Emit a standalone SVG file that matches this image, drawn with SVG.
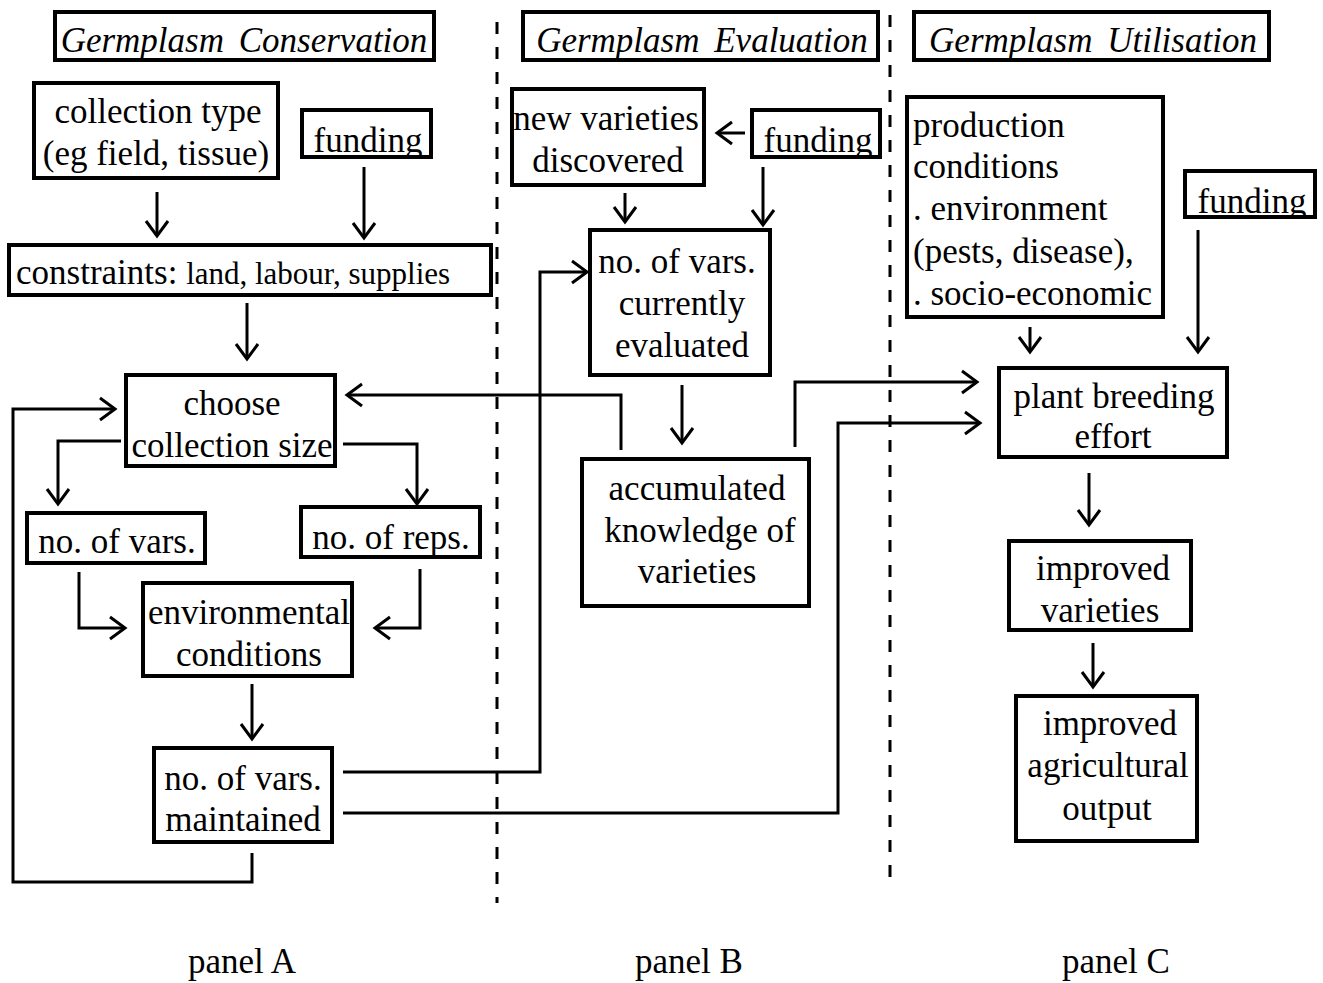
<svg xmlns="http://www.w3.org/2000/svg" width="1323" height="983" viewBox="0 0 1323 983">
<style>
  .box { fill: none; stroke: #000; stroke-width: 4; }
  .t { font-family: "Liberation Serif", "Times New Roman", serif; font-size: 35px; fill: #000; }
  .c { text-anchor: middle; }
  .title { font-style: italic; word-spacing: 6px; }
  .small { font-size: 31px; }
  .conn path { fill: none; stroke: #000; stroke-width: 3; marker-end: url(#arr); }
  .conn path.plain { marker-end: none; }
  .dash { stroke: #000; stroke-width: 3; stroke-dasharray: 12 13; }
</style>
<defs>
  <marker id="arr" markerUnits="userSpaceOnUse" markerWidth="40" markerHeight="40" refX="0" refY="0" viewBox="-20 -20 40 40" orient="auto" overflow="visible">
    <path d="M-15,-11 L0,0 L-15,11" fill="none" stroke="#000" stroke-width="3"/>
  </marker>
  <clipPath id="clipFA"><rect x="302" y="110" width="129" height="47"/></clipPath>
  <clipPath id="clipFB"><rect x="752" y="110" width="128" height="47"/></clipPath>
  <clipPath id="clipFC"><rect x="1185" y="171" width="130" height="46"/></clipPath>
</defs>
<rect width="1323" height="983" fill="#fff"/>

<g id="dividers">
  <line class="dash" x1="497" y1="22" x2="497" y2="903"/>
  <line class="dash" x1="890" y1="15" x2="890" y2="890"/>
</g>

<g id="title-conservation">
  <rect class="box" x="55" y="12" width="379" height="48"/>
  <text class="t c title" x="244" y="52">Germplasm Conservation</text>
</g>
<g id="title-evaluation">
  <rect class="box" x="523" y="12" width="355" height="48"/>
  <text class="t c title" x="702" y="52">Germplasm Evaluation</text>
</g>
<g id="title-utilisation">
  <rect class="box" x="914" y="12" width="355" height="48"/>
  <text class="t c title" x="1093" y="52">Germplasm Utilisation</text>
</g>

<g id="collection-type">
  <rect class="box" x="34" y="83" width="244" height="95"/>
  <text class="t c" x="158" y="123">collection type</text>
  <text class="t c" x="156" y="165">(eg field, tissue)</text>
</g>
<g id="funding-a">
  <text class="t c" x="368" y="152" clip-path="url(#clipFA)">funding</text>
  <rect class="box" x="302" y="110" width="129" height="47"/>
</g>
<g id="constraints">
  <rect class="box" x="9" y="245" width="482" height="50"/>
  <text class="t" x="16" y="284">constraints: <tspan class="small">land, labour, supplies</tspan></text>
</g>
<g id="choose">
  <rect class="box" x="126" y="375" width="209" height="91"/>
  <text class="t c" x="232" y="415">choose</text>
  <text class="t c" x="232" y="457">collection size</text>
</g>
<g id="no-vars-a">
  <rect class="box" x="27" y="513" width="178" height="50"/>
  <text class="t c" x="117" y="553">no. of vars.</text>
</g>
<g id="no-reps">
  <rect class="box" x="301" y="507" width="179" height="50"/>
  <text class="t c" x="391" y="549">no. of reps.</text>
</g>
<g id="environmental">
  <rect class="box" x="143" y="583" width="209" height="93"/>
  <text class="t c" x="249" y="624">environmental</text>
  <text class="t c" x="249" y="666">conditions</text>
</g>
<g id="maintained">
  <rect class="box" x="154" y="748" width="178" height="94"/>
  <text class="t c" x="243" y="790">no. of vars.</text>
  <text class="t c" x="243" y="831">maintained</text>
</g>

<g id="new-varieties">
  <rect class="box" x="512" y="89" width="192" height="96"/>
  <text class="t c" x="606" y="130">new varieties</text>
  <text class="t c" x="608" y="172">discovered</text>
</g>
<g id="funding-b">
  <text class="t c" x="818" y="152" clip-path="url(#clipFB)">funding</text>
  <rect class="box" x="752" y="110" width="128" height="47"/>
</g>
<g id="currently-evaluated">
  <rect class="box" x="590" y="230" width="180" height="145"/>
  <text class="t c" x="677" y="273">no. of vars.</text>
  <text class="t c" x="682" y="315">currently</text>
  <text class="t c" x="682" y="357">evaluated</text>
</g>
<g id="accumulated">
  <rect class="box" x="582" y="459" width="227" height="147"/>
  <text class="t c" x="697" y="500">accumulated</text>
  <text class="t c" x="700" y="542">knowledge of</text>
  <text class="t c" x="697" y="583">varieties</text>
</g>

<g id="production">
  <rect class="box" x="907" y="97" width="256" height="220"/>
  <text class="t" x="913" y="137">production</text>
  <text class="t" x="913" y="178">conditions</text>
  <text class="t" x="913" y="220">. environment</text>
  <text class="t" x="913" y="263">(pests, disease),</text>
  <text class="t" x="913" y="305">. socio-economic</text>
</g>
<g id="funding-c">
  <text class="t c" x="1252" y="213" clip-path="url(#clipFC)">funding</text>
  <rect class="box" x="1185" y="171" width="130" height="46"/>
</g>
<g id="plant-breeding">
  <rect class="box" x="999" y="368" width="228" height="89"/>
  <text class="t c" x="1114" y="408">plant breeding</text>
  <text class="t c" x="1113" y="448">effort</text>
</g>
<g id="improved-varieties">
  <rect class="box" x="1009" y="541" width="182" height="89"/>
  <text class="t c" x="1103" y="580">improved</text>
  <text class="t c" x="1100" y="622">varieties</text>
</g>
<g id="improved-output">
  <rect class="box" x="1016" y="696" width="181" height="145"/>
  <text class="t c" x="1110" y="735">improved</text>
  <text class="t c" x="1108" y="777">agricultural</text>
  <text class="t c" x="1107" y="820">output</text>
</g>

<g id="panel-labels">
  <text class="t c" x="242" y="973">panel A</text>
  <text class="t c" x="689" y="973">panel B</text>
  <text class="t c" x="1116" y="973">panel C</text>
</g>

<g id="connectors" class="conn">
  <path d="M157,192 V236"/>
  <path d="M364,167 V238"/>
  <path d="M247,303 V359"/>
  <path d="M121,441 H58 V504"/>
  <path d="M343,444 H417 V504"/>
  <path d="M79,572 V628 H125"/>
  <path d="M420,569 V628 H375"/>
  <path d="M252,684 V739"/>
  <path d="M252,853 V882 H13 V409 H115"/>
  <path d="M343,772 H540 V272 H587"/>
  <path d="M343,813 H838 V423 H980"/>
  <path d="M745,133 H717"/>
  <path d="M625,193 V222"/>
  <path d="M763,167 V225"/>
  <path d="M682,385 V443"/>
  <path d="M621,450 V395 H347"/>
  <path d="M795,447 V382 H977"/>
  <path d="M1030,327 V352"/>
  <path d="M1198,230 V352"/>
  <path d="M1089,473 V525"/>
  <path d="M1093,643 V687"/>
</g>
</svg>
